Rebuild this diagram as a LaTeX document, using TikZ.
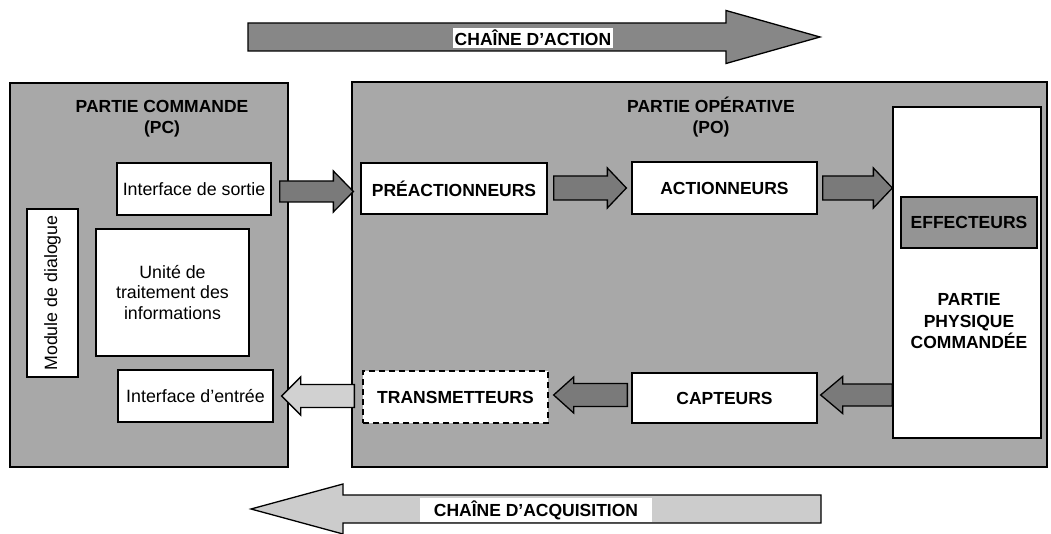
\documentclass[tikz,border=0pt]{standalone}
\usepackage{fontspec}
\setmainfont{Liberation Sans}
\usepackage{tikz}
\usetikzlibrary{calc}

\definecolor{panel}{gray}{0.66}
\definecolor{chainact}{gray}{0.53}
\definecolor{chainacq}{gray}{0.80}
\definecolor{darkarrow}{gray}{0.48}
\definecolor{lightarrow}{gray}{0.82}
\definecolor{effect}{gray}{0.58}

\tikzset{
  panelbox/.style={draw, line width=1.6pt, fill=panel, inner sep=0pt},
  whitebox/.style={draw, line width=1.3pt, fill=white, inner sep=2pt, align=center},
  boldtxt/.style={font=\bfseries\fontsize{17.5}{21.5}\selectfont, align=center},
  plaintxt/.style={font=\fontsize{17.8}{20.5}\selectfont, align=center},
  flowline/.style={draw, line width=1.3pt, line join=miter},
}

% block arrow: [fill] start, tip, half shaft, half head, head length (signed)
\newcommand{\blockarrow}[6][darkarrow]{%
  \filldraw[flowline, fill=#1] let \p1=(#2), \p2=(#3) in
    ({\x1},{\y2+#4}) -- ({\x2-(#6)},{\y2+#4}) -- ({\x2-(#6)},{\y2+#5}) -- (\x2,\y2)
    -- ({\x2-(#6)},{\y2-#5}) -- ({\x2-(#6)},{\y2-#4}) -- ({\x1},{\y2-#4}) -- cycle;}

\begin{document}
\begin{tikzpicture}[x=1pt,y=-1pt]
\useasboundingbox (0,0) rectangle (1051,534);

% the two parts
\node[panelbox, minimum width=278pt, minimum height=384pt] (pc) at (149,275) {};
\node[panelbox, minimum width=695pt, minimum height=385pt] (po) at (699.5,274.5) {};
\node[boldtxt] (pctitle) at (162,118.5) {PARTIE COMMANDE\\(PC)};
\node[boldtxt] (potitle) at (711,117) {PARTIE OPÉRATIVE\\(PO)};

% partie commande
\node[whitebox, plaintxt, minimum width=154pt, minimum height=52pt] (sortie) at (194,189) {Interface de sortie};
\node[whitebox, plaintxt, minimum width=153pt, minimum height=127pt] (unite) at (172.5,292.5) {Unité de\\traitement des\\informations};
\node[whitebox, plaintxt, rotate=90, minimum width=168pt, minimum height=51pt] (module) at (52.5,293) {Module de dialogue};
\node[whitebox, plaintxt, minimum width=155pt, minimum height=52pt] (entree) at (195.5,396) {Interface d’entrée};

% partie operative
\node[whitebox, boldtxt, minimum width=186pt, minimum height=51pt] (preact) at (454,188.5) {PRÉACTIONNEURS};
\node[whitebox, boldtxt, minimum width=185pt, minimum height=52pt] (action) at (724.5,188) {ACTIONNEURS};
\node[whitebox, minimum width=148pt, minimum height=331pt] (ppc) at (967,272.5) {};
\node[whitebox, boldtxt, fill=effect, minimum width=136pt, minimum height=51pt] (effect) at (969,222.5) {EFFECTEURS};
\node[boldtxt] (ppctext) at (969,321.5) {PARTIE\\PHYSIQUE\\COMMANDÉE};
\node[whitebox, boldtxt, dashed, dash pattern=on 6pt off 4pt, minimum width=185pt, minimum height=52pt] (trans) at (455.5,397) {TRANSMETTEURS};
\node[whitebox, boldtxt, minimum width=185pt, minimum height=50pt] (capt) at (724.5,398) {CAPTEURS};

% chaine d'action
\blockarrow{[xshift=8pt]sortie.east}{[xshift=-7pt,yshift=-3pt]preact.west}{10.5pt}{20.5pt}{20pt}
\blockarrow{[xshift=6pt]preact.east}{[xshift=-5pt]action.west}{12pt}{20pt}{19pt}
\blockarrow{[xshift=5pt]action.east}{ppc.west |- action.west}{12pt}{20pt}{19pt}

% chaine d'acquisition
\blockarrow{ppc.west}{[xshift=3pt,yshift=3pt]capt.east}{11pt}{18.5pt}{-22pt}
\blockarrow{[xshift=-4pt]capt.west}{[xshift=5pt,yshift=2pt]trans.east}{11.5pt}{18pt}{-20pt}
\blockarrow[lightarrow]{[xshift=-8pt]trans.west}{[xshift=8pt]entree.east}{11.5pt}{19pt}{-19pt}

% the two chains
\coordinate (actstart) at (248,37);
\coordinate (acttip) at (820,37);
\coordinate (acqstart) at (821,509);
\coordinate (acqtip) at (251,509);
\blockarrow[chainact]{actstart}{acttip}{14pt}{26.5pt}{94pt}
\blockarrow[chainacq]{acqstart}{acqtip}{14pt}{25pt}{-92pt}
\node[boldtxt, fill=white, inner sep=2pt] (actlabel) at (533,38) {CHAÎNE D’ACTION};
\node[boldtxt, fill=white, inner sep=2pt, minimum width=232pt] (acqlabel) at (536,510) {CHAÎNE D’ACQUISITION};
\end{tikzpicture}
\end{document}
